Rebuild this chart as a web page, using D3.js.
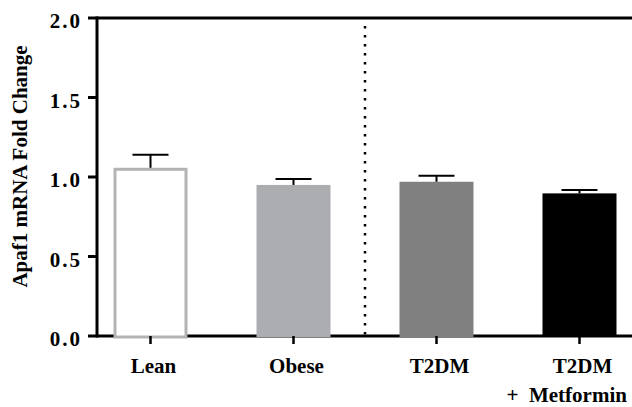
<!DOCTYPE html>
<html>
<head>
<meta charset="utf-8">
<script src="https://cdn.jsdelivr.net/npm/d3@7"></script>
<style>
  html, body { margin: 0; padding: 0; background: #fff; }
  svg { display: block; }
  text { font-family: "Liberation Serif", "Times New Roman", serif; font-weight: bold; fill: #000; }
</style>
</head>
<body>
<svg id="chart" width="632" height="407"></svg>
<script>
const categories = ["Lean", "Obese", "T2DM", "T2DM+Met"];
const labelLine1 = ["Lean", "Obese", "T2DM", "T2DM"];
const labelLine2 = ["", "", "", "+  Metformin"];
const means = [1.058, 0.950, 0.970, 0.897];
const errors = [0.082, 0.037, 0.038, 0.021];
const fills = ["#ffffff", "#acadb1", "#808080", "#000000"];
const strokes = ["#b3b3b6", "none", "none", "none"];
const yTicks = [0.0, 0.5, 1.0, 1.5, 2.0];
const yLabel = "Apaf1 mRNA Fold Change";

const svg = d3.select("#chart");
const mLeft = 97, mTop = 18, mBottom = 336, mRight = 633;
const fs = 21;

const x = d3.scaleBand().domain(categories).range([mLeft, mRight])
  .paddingInner(0.4825).paddingOuter(0.1154);
const y = d3.scaleLinear().domain([0, 2]).range([mBottom, mTop]);

// bottom axis line (bars drawn over it)
svg.append("line").attr("x1", mLeft).attr("x2", 640).attr("y1", y(0)).attr("y2", y(0))
  .attr("stroke", "#000").attr("stroke-width", 3);

// bars
categories.forEach((c, i) => {
  const sw = strokes[i] === "none" ? 0 : 3;
  svg.append("rect")
    .attr("x", x(c) + sw / 2)
    .attr("y", y(means[i]) + sw / 2)
    .attr("width", x.bandwidth() - sw)
    .attr("height", y(0) - y(means[i]) - sw / 2 + 1)
    .attr("fill", fills[i])
    .attr("stroke", strokes[i])
    .attr("stroke-width", sw);
});

const g = svg.append("g");
g.append("line").attr("x1", mLeft).attr("x2", 640).attr("y1", y(2)).attr("y2", y(2))
  .attr("stroke", "#000").attr("stroke-width", 3);
g.append("line").attr("x1", mLeft).attr("x2", mLeft).attr("y1", y(2) - 1.5).attr("y2", y(0) + 1.5)
  .attr("stroke", "#000").attr("stroke-width", 3);

// y ticks
yTicks.forEach(t => {
  g.append("line").attr("x1", mLeft - 9).attr("x2", mLeft).attr("y1", y(t)).attr("y2", y(t))
    .attr("stroke", "#000").attr("stroke-width", 3);
  g.append("text").attr("x", mLeft - 15).attr("y", y(t) + 10)
    .attr("text-anchor", "end").attr("font-size", fs).attr("letter-spacing", 2)
    .text(d3.format(".1f")(t));
});

// x ticks & labels
categories.forEach((c, i) => {
  const cx = x(c) + x.bandwidth() / 2;
  g.append("line").attr("x1", cx).attr("x2", cx).attr("y1", y(0)).attr("y2", y(0) + 8)
    .attr("stroke", "#000").attr("stroke-width", 2.5);
  g.append("text").attr("x", cx + 3).attr("y", 373).attr("text-anchor", "middle")
    .attr("font-size", fs).text(labelLine1[i]);
  if (labelLine2[i]) {
    g.append("text").attr("x", cx - 73).attr("y", 402).attr("text-anchor", "start")
      .attr("font-size", fs).attr("xml:space", "preserve").text(labelLine2[i]);
  }
});

// error bars
categories.forEach((c, i) => {
  const cx = x(c) + x.bandwidth() / 2;
  const capW = 36;
  g.append("line").attr("x1", cx).attr("x2", cx).attr("y1", y(means[i])).attr("y2", y(means[i] + errors[i]))
    .attr("stroke", "#000").attr("stroke-width", 2);
  g.append("line").attr("x1", cx - capW / 2).attr("x2", cx + capW / 2)
    .attr("y1", y(means[i] + errors[i])).attr("y2", y(means[i] + errors[i]))
    .attr("stroke", "#000").attr("stroke-width", 2);
});

// dotted separator
const sepX = (x("Obese") + x.bandwidth() + x("T2DM")) / 2;
g.append("line").attr("x1", sepX).attr("x2", sepX).attr("y1", 26).attr("y2", y(0))
  .attr("stroke", "#000").attr("stroke-width", 2.5).attr("stroke-dasharray", "2.5 6.5");

// y label
g.append("text")
  .attr("transform", `translate(27,166.5) rotate(-90)`)
  .attr("text-anchor", "middle").attr("font-size", fs).text(yLabel);
</script>
</body>
</html>
